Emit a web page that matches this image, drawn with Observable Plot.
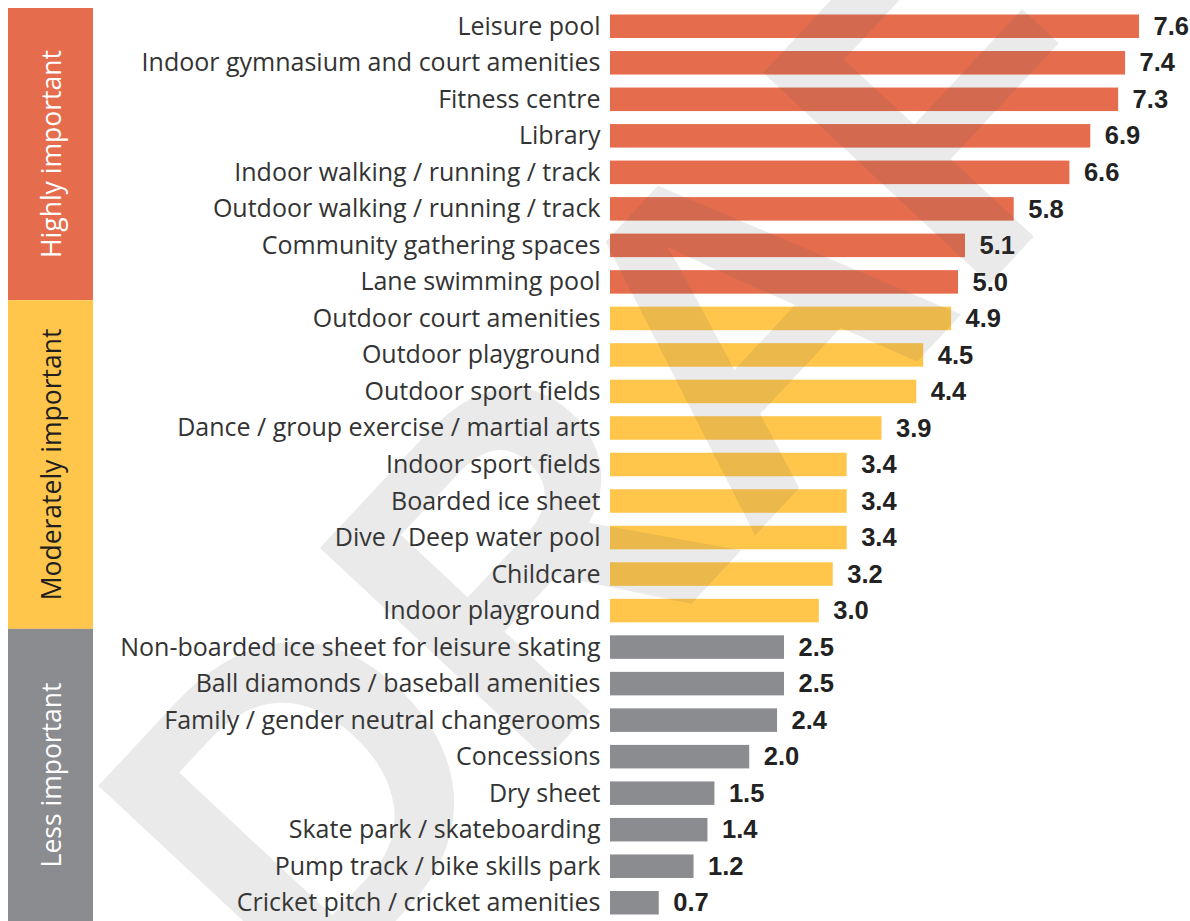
<!DOCTYPE html>
<html><head><meta charset="utf-8">
<script src="https://cdn.jsdelivr.net/npm/d3@7"></script>
<script src="https://cdn.jsdelivr.net/npm/@observablehq/plot@0.6"></script>
<style>
html,body{margin:0;padding:0;background:#fff;overflow:hidden;}
#chart{position:relative;width:1190px;height:921px;}
</style></head><body><div id="chart"></div>
<script>
const categories = [
  "Leisure pool","Indoor gymnasium and court amenities","Fitness centre","Library",
  "Indoor walking / running / track","Outdoor walking / running / track","Community gathering spaces","Lane swimming pool",
  "Outdoor court amenities","Outdoor playground","Outdoor sport fields","Dance / group exercise / martial arts",
  "Indoor sport fields","Boarded ice sheet","Dive / Deep water pool","Childcare","Indoor playground",
  "Non-boarded ice sheet for leisure skating","Ball diamonds / baseball amenities","Family / gender neutral changerooms",
  "Concessions","Dry sheet","Skate park / skateboarding","Pump track / bike skills park","Cricket pitch / cricket amenities"
];
const values = [7.6,7.4,7.3,6.9,6.6,5.8,5.1,5.0,4.9,4.5,4.4,3.9,3.4,3.4,3.4,3.2,3.0,2.5,2.5,2.4,2.0,1.5,1.4,1.2,0.7];
const groupNames = ["Highly important","Moderately important","Less important"];
const groupCounts = [8, 9, 8];
const groupColors = ["#E56D4E","#FFC64B","#8B8C90"];
const groupTextColors = ["#ffffff","#1f1f1f","#ffffff"];
const watermark = "DRAFT";

const groups = groupNames.flatMap((g,i)=>Array(groupCounts[i]).fill(g));
const data = categories.map((name,i)=>({name, value: values[i], group: groups[i]}));

const chart = Plot.plot({
  width:1190, height:921,
  marginLeft:610, marginRight:51, marginTop:8, marginBottom:0,
  x:{domain:[0,7.6], axis:null},
  y:{domain:categories, padding:0, round:false, label:null, tickSize:0, tickPadding:10},
  color:{domain:groupNames, range:groupColors},
  style:{fontFamily:"'Open Sans', sans-serif", fontSize:"25px", color:"#333", background:"transparent", overflow:"hidden"},
  marks:[
    Plot.barX(data,{x:"value", y:"name", fill:"group", insetTop:6.5, insetBottom:6.5}),
    Plot.text(data,{x:"value", y:"name", text:d=>d.value.toFixed(1), textAnchor:"start", dx:14,
      fontWeight:"bold", fontSize:25.5, fontFamily:"'Liberation Sans', Arial, sans-serif", fill:"#222"})
  ]
});
document.getElementById("chart").appendChild(chart);

const svg = d3.select(chart);
const ys = chart.scale("y");
const step = ys.step || ys.bandwidth;
const yTop = name => (typeof ys.apply === "function") ? ys.apply(name) : ys.range[0] + ys.domain.indexOf(name)*step;
const strip = svg.append("g");
groupNames.forEach((g,i)=>{
  const cats = categories.filter((c,j)=>groups[j]===g);
  const y0 = yTop(cats[0]), y1 = yTop(cats[cats.length-1]) + step;
  strip.append("rect").attr("x",8).attr("width",85).attr("y",y0).attr("height",y1-y0).attr("fill",groupColors[i]);
  strip.append("text").attr("transform",`translate(51,${(y0+y1)/2}) rotate(-90)`)
    .attr("text-anchor","middle").attr("dominant-baseline","central")
    .attr("fill",groupTextColors[i]).style("font-family","'Open Sans', sans-serif").style("font-size","26.5px")
    .text(g);
});
svg.append("text").attr("transform","translate(710,355) rotate(-47)")
  .attr("text-anchor","middle").attr("dominant-baseline","central")
  .style("font-family","'Liberation Sans', Arial, sans-serif").style("font-weight","bold").style("font-size","450px")
  .attr("fill","rgb(80,85,80)").attr("fill-opacity",0.12).text(watermark);
</script></body></html>
